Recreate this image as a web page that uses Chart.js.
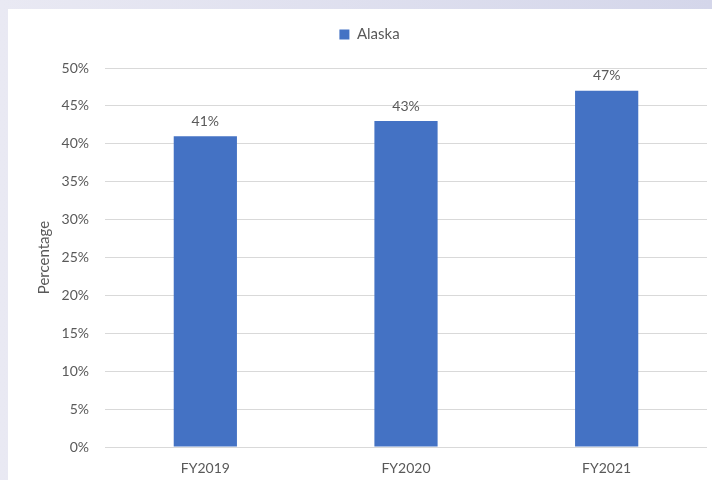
<!DOCTYPE html>
<html>
<head>
<meta charset="utf-8">
<script src="https://cdn.jsdelivr.net/npm/chart.js@4"></script>
<style>
  html, body { margin: 0; padding: 0; }
  body {
    width: 712px; height: 480px; overflow: hidden; position: relative;
    background: linear-gradient(to right, #e9e9f3, #d4d6ea);
  }
  #wrap { position: absolute; left: 8px; top: 9px; width: 704px; height: 471px; background: #fff; }
</style>
</head>
<body>
<div id="wrap"><canvas id="chart" width="704" height="471"></canvas></div>
<script>
const categories = ['FY2019', 'FY2020', 'FY2021'];
const alaskaValues = [41, 43, 47];
const seriesName = 'Alaska';
const yTicks = [0, 5, 10, 15, 20, 25, 30, 35, 40, 45, 50];

const textGray = '#595959';
const fontFamily = 'Lato, "Liberation Sans", sans-serif';

// labels above each bar
const barLabels = {
  id: 'barLabels',
  afterDatasetsDraw(chart) {
    const ctx = chart.ctx;
    const meta = chart.getDatasetMeta(0);
    ctx.save();
    ctx.fillStyle = textGray;
    ctx.font = '14px ' + fontFamily;
    ctx.textAlign = 'center';
    ctx.textBaseline = 'middle';
    meta.data.forEach((bar, i) => {
      ctx.fillText(alaskaValues[i] + '%', bar.x, bar.y - 15);
    });
    ctx.restore();
  }
};

// extra room under the legend, and nudge it right like the original
const legendTweak = {
  id: 'legendTweak',
  beforeInit(chart) {
    const legend = chart.legend;
    const fit = legend.fit;
    legend.fit = function () {
      fit.call(this);
      this.height += 17;
    };
    const draw = legend.draw;
    legend.draw = function () {
      const ctx = this.ctx;
      ctx.save();
      ctx.translate(12, 1);
      draw.call(this);
      ctx.restore();
    };
  }
};

new Chart(document.getElementById('chart'), {
  type: 'bar',
  data: {
    labels: categories,
    datasets: [{
      label: seriesName,
      data: alaskaValues,
      backgroundColor: '#4472c4',
      borderWidth: 0,
      categoryPercentage: 1,
      barPercentage: 0.315
    }]
  },
  options: {
    responsive: false,
    animation: false,
    layout: { padding: { left: 0, right: 5, top: 9, bottom: 0 } },
    plugins: {
      legend: {
        display: true,
        position: 'top',
        labels: {
          boxWidth: 10,
          boxHeight: 10,
          padding: 8,
          color: textGray,
          font: { size: 15, family: fontFamily }
        }
      },
      tooltip: { enabled: false }
    },
    scales: {
      y: {
        min: 0,
        max: 50,
        afterBuildTicks(axis) {
          axis.ticks = yTicks.map(v => ({ value: v }));
        },
        afterFit(axis) { axis.width = 97; },
        border: { display: false },
        grid: { color: '#d9d9d9', drawTicks: false },
        ticks: {
          padding: 16,
          color: textGray,
          font: { size: 14, family: fontFamily },
          callback: v => v + '%'
        },
        title: {
          display: true,
          text: 'Percentage',
          color: textGray,
          padding: { top: 27, bottom: 0 },
          font: { size: 15, family: fontFamily }
        }
      },
      x: {
        afterFit(axis) { axis.height = 33; },
        border: { display: false },
        grid: { display: false, drawTicks: false },
        ticks: {
          padding: 13,
          color: textGray,
          font: { size: 14, family: fontFamily }
        }
      }
    }
  },
  plugins: [barLabels, legendTweak]
});
</script>
</body>
</html>
